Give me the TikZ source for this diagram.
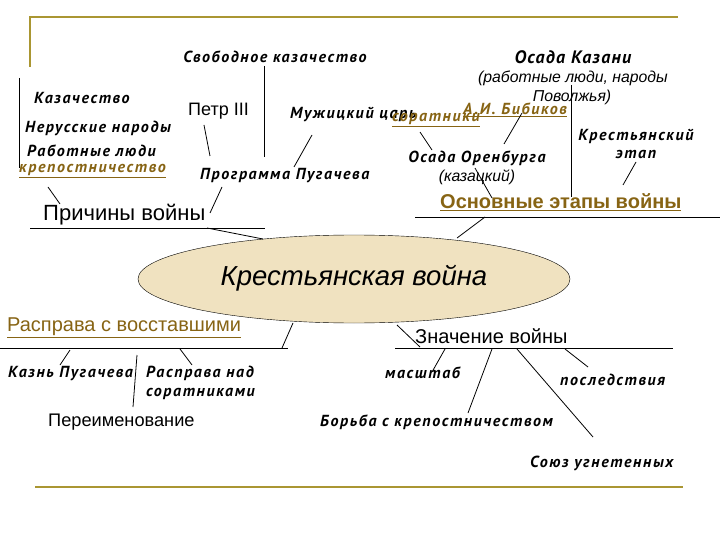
\documentclass[tikz,border=0pt]{standalone}
\usepackage{fontspec}
\setmainfont{Liberation Sans}
\newfontfamily\bifont{PT Sans}[LetterSpace=10]
\newfontfamily\bigbifont{PT Sans}[LetterSpace=7]
\usetikzlibrary{shapes.geometric}
\definecolor{gold}{RGB}{170,150,50}
\definecolor{ulink}{RGB}{135,100,20}
\definecolor{beige}{RGB}{240,226,192}
\begin{document}
\begin{tikzpicture}[x=1pt,y=-1pt,
  bi/.style={font=\bifont\bfseries\itshape\fontsize{16}{18}\selectfont, inner sep=0pt},
  rg/.style={font=\fontsize{#1}{#1}\selectfont, inner sep=0pt},
  it/.style={font=\itshape\fontsize{15.8}{18}\selectfont, inner sep=0pt},
  lnk/.style={text=ulink},
  ln/.style={line width=0.8pt, black},
  frame/.style={line width=2.4pt, gold}]
\fill[white] (0,0) rectangle (720,540);
\useasboundingbox (0,0) rectangle (720,540);
% frame
\draw[frame] (30,67) -- (30,17) -- (678,17);
\draw[frame] (35,487) -- (683,487);
% left bracket line
\coordinate (lb1) at (19,78); \coordinate (lb2) at (19,168);
\draw[ln] (lb1) -- (lb2);

% ellipse
\node[ellipse, draw, fill=beige, minimum width=432pt, minimum height=88pt, inner sep=0pt] (war) at (354,279) {};
\node[font=\itshape\fontsize{27.5}{30}\selectfont, inner sep=0pt] (wart) at (354,278) {Крестьянская война};

% causes
\node[bi, anchor=center] (svob) at (275,57) {Свободное казачество};
\node[bi, anchor=west] (kaz) at (34,98) {Казачество};
\node[bi, anchor=west] (ner) at (25,128) {Нерусские народы};
\node[bi, anchor=west] (rab) at (27,151) {Работные люди};
\node[bi, lnk, anchor=west] (krep) at (19,171) {\underline{крепостничество}};
\node[rg=18, anchor=west] (petr) at (188,111) {Петр III};
\node[bi, anchor=west] (muz) at (290,115) {Мужицкий царь};
\node[bi, anchor=west] (prog) at (200,176) {Программа Пугачева};
\node[rg=22, anchor=west] (prich) at (43,215) {Причины войны};

\coordinate (s1) at (264,66); \coordinate (s2) at (264,157);
\draw[ln] (s1) -- (s2);
\coordinate (p1) at (204,125); \coordinate (p2) at (210,156);
\draw[ln] (p1) -- (p2);
\coordinate (m1) at (312,135); \coordinate (m2) at (294,167);
\draw[ln] (m1) -- (m2);
\coordinate (k1) at (48,187); \coordinate (k2) at (60,204);
\draw[ln] (k1) -- (k2);
\coordinate (g1) at (222,187); \coordinate (g2) at (210,213);
\draw[ln] (g1) -- (g2);
\coordinate (u1) at (30,228); \coordinate (u2) at (265,228);
\draw[ln] (u1) -- (u2);
\coordinate (u3) at (207,228); \coordinate (u4) at (263,239);
\draw[ln] (u3) -- (u4);

% stages
\node[inner sep=0pt, font=\bigbifont\bfseries\itshape\fontsize{18}{20}\selectfont, anchor=center] (okaz) at (573,57) {Осада Казани};
\node[it, anchor=center] (rl1) at (573,78) {(работные люди, народы};
\node[it, anchor=center] (rl2) at (572,97) {Поволжья)};
\node[bi, lnk, anchor=west] (bib) at (463,110) {\underline{А.И. Бибиков}};
\node[bi, lnk, anchor=west] (sor) at (392,120) {\underline{соратники}};
\node[bi, anchor=center] (oren) at (477,158) {Осада Оренбурга};
\node[it, anchor=center] (kazc) at (477,177) {(казацкий)};
\node[bi, anchor=center, align=center, font=\bifont\bfseries\itshape\fontsize{16}{18}\selectfont] (krst) at (636,144) {Крестьянский\\этап};
\node[font=\bfseries\fontsize{20}{22}\selectfont, text=ulink, inner sep=0pt, anchor=west] (osn) at (440,202) {\underline{Основные этапы войны}};

\coordinate (v1) at (571,85); \coordinate (v2) at (571,197);
\draw[ln] (v1) -- (v2);
\coordinate (so1) at (420,132); \coordinate (so2) at (432,150);
\draw[ln] (so1) -- (so2);
\coordinate (bb1) at (522,113); \coordinate (bb2) at (504,144);
\draw[ln] (bb1) -- (bb2);
\coordinate (or1) at (475,168); \coordinate (or2) at (492,198);
\draw[ln] (or1) -- (or2);
\coordinate (ke1) at (636,162); \coordinate (ke2) at (623,185);
\draw[ln] (ke1) -- (ke2);
\coordinate (ou1) at (415,217); \coordinate (ou2) at (720,217);
\draw[ln] (ou1) -- (ou2);
\coordinate (ou3) at (485,217); \coordinate (ou4) at (457,238);
\draw[ln] (ou3) -- (ou4);

% reprisals
\node[rg=20, text=ulink, anchor=west] (rasp) at (7,328) {\underline{Расправа с восставшими}};
\node[bi, anchor=west] (kazn) at (8,374) {Казнь Пугачева};
\node[bi, anchor=west, align=left, font=\bifont\bfseries\itshape\fontsize{16}{19}\selectfont] (raspn) at (146,383) {Расправа над\\соратниками};
\node[rg=18.2, anchor=west] (pere) at (48,422) {Переименование};

\coordinate (r1) at (0,348); \coordinate (r2) at (288,348);
\draw[ln] (r1) -- (r2);
\coordinate (r3) at (282,348); \coordinate (r4) at (293,323);
\draw[ln] (r3) -- (r4);
\coordinate (c1) at (70,350); \coordinate (c2) at (60,365);
\draw[ln] (c1) -- (c2);
\coordinate (c3) at (137,355); \coordinate (c4) at (133,407);
\draw[ln] (c3) -- (c4);
\coordinate (c5) at (180,349); \coordinate (c6) at (192,365);
\draw[ln] (c5) -- (c6);

% significance
\node[rg=20, anchor=west] (znach) at (415,336) {Значение войны};
\node[bi, anchor=west] (masht) at (385,373) {масштаб};
\node[bi, anchor=west] (posl) at (560,380) {последствия};
\node[bi, anchor=west] (borba) at (320,422) {Борьба с крепостничеством};
\node[bi, anchor=west] (soyuz) at (530,463) {Союз угнетенных};

\coordinate (z1) at (395,348); \coordinate (z2) at (673,348);
\draw[ln] (z1) -- (z2);
\coordinate (z3) at (397,325); \coordinate (z4) at (420,347);
\draw[ln] (z3) -- (z4);
\coordinate (d1) at (445,349); \coordinate (d2) at (432,372);
\draw[ln] (d1) -- (d2);
\coordinate (d3) at (492,349); \coordinate (d4) at (468,413);
\draw[ln] (d3) -- (d4);
\coordinate (d5) at (517,349); \coordinate (d6) at (593,437);
\draw[ln] (d5) -- (d6);
\coordinate (d7) at (565,349); \coordinate (d8) at (588,367);
\draw[ln] (d7) -- (d8);
\end{tikzpicture}
\end{document}
